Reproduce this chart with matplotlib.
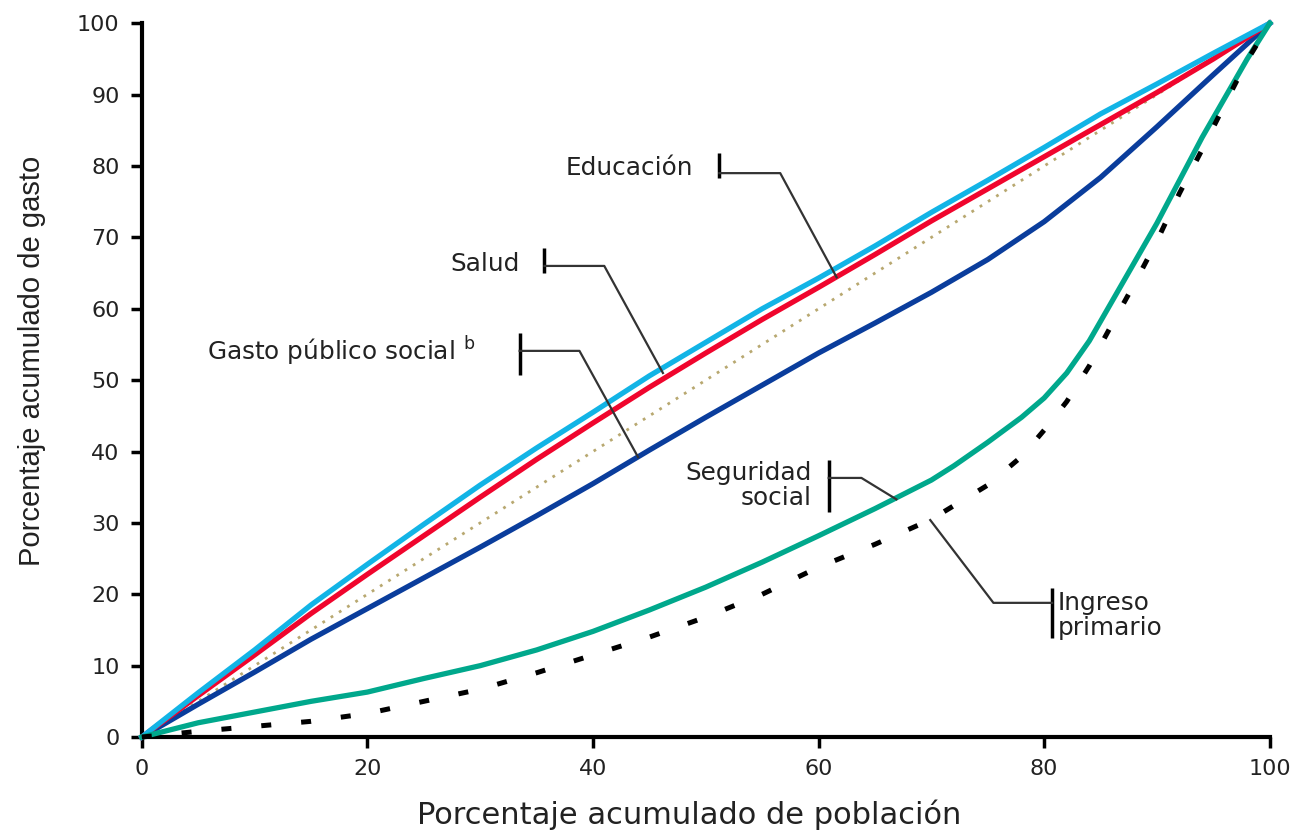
import matplotlib
matplotlib.use("Agg")
import matplotlib.pyplot as plt

plt.rcParams['font.family'] = ['DejaVu Sans']

# cumulative population (%)
pob = [0, 5, 10, 15, 20, 25, 30, 35, 40, 45, 50, 55, 60, 65, 70, 75, 80, 85, 90, 95, 100]

educacion = [0, 6.2, 12.2, 18.5, 24.2, 29.8, 35.3, 40.5, 45.5, 50.6, 55.3, 60, 64.3, 68.8, 73.5, 78, 82.6, 87.3, 91.5, 95.8, 100]
salud = [0, 5.8, 11.5, 17.3, 22.8, 28.2, 33.6, 38.9, 44, 49, 53.8, 58.5, 63, 67.6, 72.3, 76.8, 81.3, 85.8, 90.3, 95, 100]
gasto_social = [0, 4.6, 9.1, 13.7, 18, 22.3, 26.6, 31, 35.5, 40.2, 44.8, 49.3, 53.8, 58, 62.3, 66.9, 72.2, 78.4, 85.5, 92.8, 100]

pob_seg = [0, 5, 10, 15, 20, 25, 30, 35, 40, 45, 50, 55, 60, 65, 70, 72, 75, 78, 80, 82, 84, 86, 88, 90, 92, 94, 96, 98, 100]
seguridad = [0, 2, 3.5, 5, 6.3, 8.2, 10, 12.2, 14.8, 17.8, 21, 24.5, 28.2, 32, 36, 38, 41.3, 44.8, 47.5, 51, 55.5, 61, 66.5, 72, 78, 84, 89.5, 95, 100]

pob_ing = [0, 5, 10, 15, 20, 25, 30, 35, 40, 45, 50, 55, 60, 65, 70, 75, 78, 80, 82, 84, 86, 88, 90, 92, 94, 96, 98, 100]
ingreso = [0, 0.8, 1.5, 2.2, 3.3, 5, 6.7, 9, 11.5, 14, 16.8, 20, 23.8, 27, 30.5, 35.3, 39.3, 43, 47, 52, 57.8, 63.5, 69.5, 76.2, 82.3, 88.6, 94.8, 100]

igualdad = [0, 100]

fig = plt.figure(figsize=(13.01, 8.30), dpi=100)
ax = fig.add_axes([0.109, 0.112, 0.867, 0.860])

ax.plot(igualdad, igualdad, color='#b8a870', lw=2, linestyle=(0, (1, 2.5)), zorder=2)
ax.plot(pob, gasto_social, color='#0a3d9c', lw=3.8, zorder=3)
ax.plot(pob, salud, color='#f0052d', lw=3.8, zorder=3)
ax.plot(pob, educacion, color='#12b4e6', lw=3.8, zorder=4)
ax.plot(pob_seg, seguridad, color='#00a88c', lw=3.8, zorder=4)
ax.plot(pob_ing, ingreso, color='black', lw=3.6, linestyle=(0, (2, 6)), zorder=5)


def callout(txt, tx, ty, ha, bx, by0, by1, hy, ex, tipx, tipy):
    ax.text(tx, ty, txt, ha=ha, va='center', fontsize=17.8, color='#222222', linespacing=1.05)
    ax.plot([bx, bx], [by0, by1], color='black', lw=2.5, solid_capstyle='butt', zorder=6)
    ax.plot([bx, ex, tipx], [hy, hy, tipy], color='#333333', lw=1.6, zorder=6)


callout('Educación', 48.9, 79.7, 'right', 51.2, 78.3, 81.8, 79.0, 56.6, 61.6, 64.4)
callout('Salud', 33.5, 66.3, 'right', 35.7, 65.0, 68.5, 66.0, 41.0, 46.2, 51.0)
callout('Gasto público social $^{\\mathrm{b}}$', 29.6, 54.0, 'right', 33.5, 50.7, 56.6, 54.1, 38.8, 44.0, 39.2)
callout('Seguridad\nsocial', 59.4, 35.3, 'right', 60.9, 31.5, 38.8, 36.3, 63.8, 66.9, 33.3)
callout('Ingreso\nprimario', 81.2, 17.0, 'left', 80.7, 13.9, 20.9, 18.8, 75.5, 69.9, 30.4)

ax.set_xlim(0, 100)
ax.set_ylim(0, 100)
ax.set_xticks(range(0, 101, 20))
ax.set_yticks(range(0, 101, 10))
ax.set_xlabel('Porcentaje acumulado de población', fontsize=22, color='#222222')
ax.set_ylabel('Porcentaje acumulado de gasto', fontsize=21, color='#222222', family='Liberation Sans')
ax.xaxis.set_label_coords(0.485, -0.088)
ax.yaxis.set_label_coords(-0.085, 0.527)

for s in ['top', 'right']:
    ax.spines[s].set_visible(False)
for s in ['left', 'bottom']:
    ax.spines[s].set_linewidth(3)
ax.tick_params(axis='both', length=8, width=2.5, labelsize=16, pad=8, colors='black', labelcolor='#222222')

for l in ax.lines:
    l.set_clip_on(False)

fig.savefig('out.png', dpi=100)
